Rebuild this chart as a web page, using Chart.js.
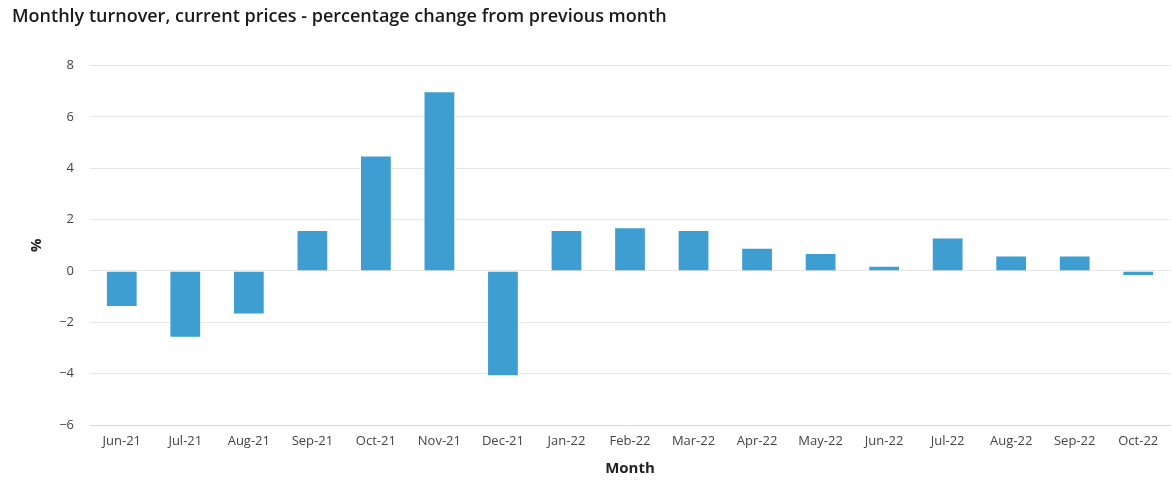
<!DOCTYPE html>
<html>
<head>
<meta charset="utf-8">
<script src="https://cdn.jsdelivr.net/npm/chart.js@4/dist/chart.umd.min.js"></script>
<style>
  html, body { margin: 0; padding: 0; background: #fff; }
  #wrap { width: 1172px; height: 490px; }
</style>
</head>
<body>
<div id="wrap"><canvas id="c" width="1172" height="490"></canvas></div>
<script>
const categories = ["Jun-21","Jul-21","Aug-21","Sep-21","Oct-21","Nov-21","Dec-21","Jan-22","Feb-22","Mar-22","Apr-22","May-22","Jun-22","Jul-22","Aug-22","Sep-22","Oct-22"];
const turnoverChange = [-1.4, -2.6, -1.7, 1.6, 4.5, 7.0, -4.1, 1.6, 1.7, 1.6, 0.9, 0.7, 0.2, 1.3, 0.6, 0.6, -0.2];
const yTicks = { min: -6, max: 8, step: 2 };

const FONT = "'Open Sans', 'Noto Sans', sans-serif";

new Chart(document.getElementById('c'), {
  type: 'bar',
  data: {
    labels: categories,
    datasets: [{
      label: 'Monthly turnover',
      data: turnoverChange,
      backgroundColor: '#3e9dd1',
      borderColor: '#ffffff',
      borderWidth: 1,
      categoryPercentage: 1.0,
      barPercentage: 0.5
    }]
  },
  options: {
    responsive: false,
    animation: false,
    devicePixelRatio: 1,
    layout: { padding: { left: 12, right: 2, top: 0, bottom: 0 } },
    plugins: {
      legend: { display: false },
      tooltip: { enabled: false },
      title: {
        display: true,
        text: 'Monthly turnover, current prices - percentage change from previous month',
        align: 'start',
        color: '#1a1a1a',
        font: { family: FONT, size: 18, weight: '600' },
        padding: { top: 6, bottom: 38 }
      }
    },
    scales: {
      x: {
        grid: { display: false, drawTicks: false },
        border: { display: true, color: '#ccd6eb', width: 1 },
        ticks: { color: '#444', font: { family: FONT, size: 13 }, padding: 8, maxRotation: 0, autoSkip: false },
        title: { display: true, text: 'Month', color: '#222', font: { family: FONT, size: 15, weight: 'bold' }, padding: { top: 4, bottom: 12 } },
        afterFit: (s) => { s.height = 65; }
      },
      y: {
        min: yTicks.min,
        max: yTicks.max,
        ticks: { stepSize: yTicks.step, color: '#444', font: { family: FONT, size: 13 }, padding: 16,
                 callback: (v) => (v < 0 ? '\u2212' + Math.abs(v) : String(v)) },
        grid: { color: '#e6e6e6', drawTicks: false },
        border: { display: false },
        title: { display: true, text: '%', color: '#222', font: { family: FONT, size: 15, weight: 'bold' }, padding: { top: 16, bottom: 0 } },
        afterFit: (s) => { s.width = 78; }
      }
    }
  }
});
</script>
</body>
</html>
